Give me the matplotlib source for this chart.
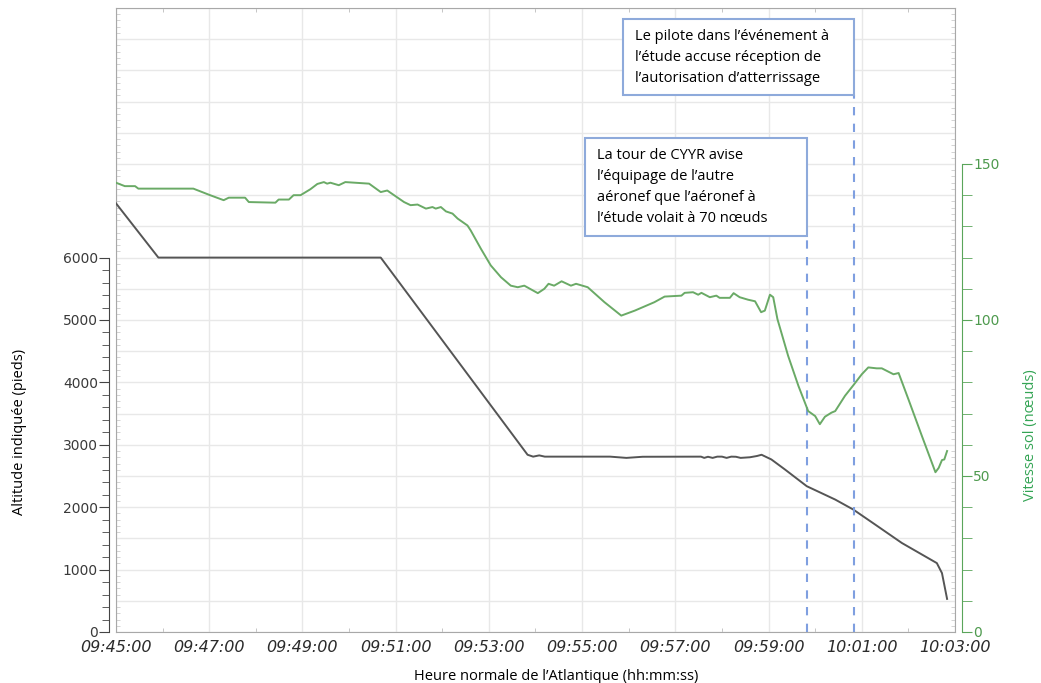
import numpy as np
import matplotlib.pyplot as plt
from matplotlib.patches import Rectangle

# temps en minutes après 09:45:00
alt_t = [0.0, 0.91, 5.68, 8.83, 8.95, 9.08, 9.2, 10.6, 10.95, 11.3,
         12.55, 12.62, 12.7, 12.8, 12.9, 13.0, 13.1, 13.2, 13.3, 13.4,
         13.5, 13.6, 13.75, 13.85, 14.06, 14.35, 14.82, 15.43, 15.82, 16.29,
         16.86, 17.61, 17.72, 17.83]
alt_ft = [6870, 6000, 6000, 2840, 2810, 2830, 2810, 2810, 2790, 2808,
          2810, 2790, 2808, 2790, 2810, 2810, 2790, 2810, 2808, 2790,
          2795, 2800, 2820, 2840, 2765, 2605, 2336, 2122, 1961, 1720,
          1426, 1104, 944, 530]

spd_t = [0.0, 0.19, 0.41, 0.48, 1.66, 2.02, 2.31, 2.42, 2.77, 2.85,
         3.42, 3.49, 3.71, 3.81, 3.96, 4.17, 4.32, 4.46, 4.53, 4.60,
         4.78, 4.92, 5.43, 5.68, 5.82, 6.18, 6.32, 6.47, 6.65, 6.79,
         6.86, 6.97, 7.08, 7.22, 7.33, 7.54, 7.61, 7.83, 8.04, 8.26,
         8.47, 8.62, 8.76, 9.05, 9.19, 9.28, 9.40, 9.56, 9.76, 9.87,
         10.12, 10.48, 10.84, 11.13, 11.55, 11.77, 12.13, 12.20, 12.38, 12.49,
         12.56, 12.74, 12.88, 12.95, 13.17, 13.25, 13.38, 13.56, 13.71, 13.84,
         13.92, 14.03, 14.10, 14.19, 14.42, 14.64, 14.85, 15.00, 15.10, 15.21,
         15.35, 15.43, 15.64, 15.82, 16.00, 16.14, 16.32, 16.43, 16.68, 16.79,
         17.00, 17.29, 17.58, 17.65, 17.72, 17.77, 17.83]
spd_kn = [144.0, 142.9, 142.9, 142.1, 142.1, 140.0, 138.4, 139.2, 139.2, 137.8,
          137.6, 138.6, 138.6, 140.0, 140.0, 141.9, 143.6, 144.2, 143.7, 144.0,
          143.2, 144.2, 143.7, 141.0, 141.5, 137.8, 136.8, 137.0, 135.7, 136.2,
          135.7, 136.2, 134.8, 134.1, 132.5, 130.3, 128.7, 122.8, 117.5, 113.7,
          111.0, 110.5, 111.0, 108.6, 110.0, 111.6, 111.0, 112.4, 111.0, 111.6,
          110.5, 105.7, 101.4, 103.0, 105.7, 107.5, 107.8, 108.7, 108.9, 108.1,
          108.7, 107.3, 107.8, 107.1, 107.1, 108.6, 107.3, 106.5, 106.0, 102.5,
          103.0, 108.1, 107.3, 100.3, 88.5, 78.9, 70.8, 69.2, 66.6, 69.0,
          70.3, 70.8, 75.7, 79.1, 82.6, 84.8, 84.5, 84.5, 82.6, 83.0,
          74.6, 62.8, 51.2, 52.6, 55.1, 55.3, 58.0]

tick_labels = ['09:45:00', '09:47:00', '09:49:00', '09:51:00', '09:53:00',
               '09:55:00', '09:57:00', '09:59:00', '10:01:00', '10:03:00']

event_times = ['09:59:50', '10:00:50']
event_texts = ["La tour de CYYR avise\nl\u2019équipage de l\u2019autre\naéronef que l\u2019aéronef à\nl\u2019étude volait à 70 nœuds",
               "Le pilote dans l\u2019événement à\nl\u2019étude accuse réception de\nl\u2019autorisation d\u2019atterrissage"]


def to_min(hms):
    h, m, s = map(int, hms.split(':'))
    return h * 60 + m + s / 60 - (9 * 60 + 45)


fig = plt.figure(figsize=(10.41, 6.83), dpi=100)
pos = [0.1114, 0.0747, 0.806, 0.9136]
txt_font = 'Open Sans'

# cadre gris + grille
fr = fig.add_axes(pos)
fr.set_xlim(0, 18)
fr.set_ylim(0, 10000)
fr.set_xticks([to_min(s) for s in tick_labels])
fr.set_xticklabels(tick_labels, fontstyle='italic', fontsize=11.5, color='#2b2b2b')
fr.set_xticks(np.arange(1, 18, 2), minor=True)
fr.tick_params(axis='x', which='major', length=0, pad=6)
fr.tick_params(axis='x', which='minor', direction='in', length=3, top=True, color='#bbbbbb')
fr.set_yticks(np.arange(0, 10001, 500))
fr.set_yticklabels([])
fr.set_yticks(np.arange(0, 10001, 100), minor=True)
fr.tick_params(axis='y', which='major', length=0)
fr.tick_params(axis='y', which='minor', direction='in', length=3, left=True, right=True, color='#cccccc')
fr.grid(True, which='major', color='#e8e8e8', lw=1)
for s in fr.spines.values():
    s.set_color('#a8a8a8')

# altitude
ax = fig.add_axes(pos)
ax.patch.set_visible(False)
ax.set_xlim(0, 18)
ax.set_ylim(0, 10000)
ax.plot(alt_t, alt_ft, color='#555555', lw=1.4)
for side in ['top', 'right', 'bottom']:
    ax.spines[side].set_visible(False)
ax.spines['left'].set_position(('outward', 5))
ax.spines['left'].set_bounds(0, 6000)
ax.spines['left'].set_color('#444444')
ax.set_yticks(np.arange(0, 6001, 1000))
ax.set_yticks(np.arange(0, 6001, 200), minor=True)
ax.tick_params(axis='y', which='major', length=7, color='#444444', labelsize=10, labelcolor='#3a3a3a', pad=1)
ax.tick_params(axis='y', which='minor', length=5, color='#444444')
ax.tick_params(axis='x', bottom=False, labelbottom=False)

# vitesse sol
ax2 = ax.twinx()
ax2.set_ylim(0, 200)
ax2.plot(spd_t, spd_kn, color='#6aaa66', lw=1.4)
for side in ['top', 'left', 'bottom']:
    ax2.spines[side].set_visible(False)
ax2.spines['right'].set_position(('outward', 5))
ax2.spines['right'].set_bounds(0, 150)
ax2.spines['right'].set_color('#5aa55a')
ax2.set_yticks([0, 50, 100, 150])
ax2.set_yticks(np.arange(0, 151, 10), minor=True)
ax2.tick_params(axis='y', which='major', length=7, color='#5aa55a', labelsize=10, labelcolor='#4e9a4e', pad=1)
ax2.tick_params(axis='y', which='minor', length=7, color='#5aa55a')

# événements
box_bottoms = [6350, 8600]
box_tops = [7910, 9823]
box_widths = [4.78, 4.95]
for ev, txt, b0, b1, w in zip(event_times, event_texts, box_bottoms, box_tops, box_widths):
    t = to_min(ev)
    ax.vlines(t, 0, b0, colors='#7f9fe0', linestyles=(0, (4, 4)), lw=1.5)
    ax.add_patch(Rectangle((t - w, b0), w, b1 - b0, facecolor='white',
                           edgecolor='#8eaadb', lw=1.5, zorder=5))
    ax.text(t - w + 0.26, (b0 + b1) / 2, txt, ha='left', va='center', fontsize=10.5,
            family=txt_font, linespacing=1.55, zorder=6)

fig.text(0.019, 0.3675, 'Altitude indiquée (pieds)', rotation=90, ha='center', va='center',
         fontsize=10.5, family=txt_font)
fig.text(0.99, 0.363, 'Vitesse sol (nœuds)', rotation=90, ha='center', va='center',
         fontsize=10.5, family=txt_font, color='#33a454')
fig.text(0.534, 0.0102, 'Heure normale de l\u2019Atlantique (hh:mm:ss)', ha='center', va='center',
         fontsize=10.5, family=txt_font)

fig.savefig('out.png', dpi=100)
